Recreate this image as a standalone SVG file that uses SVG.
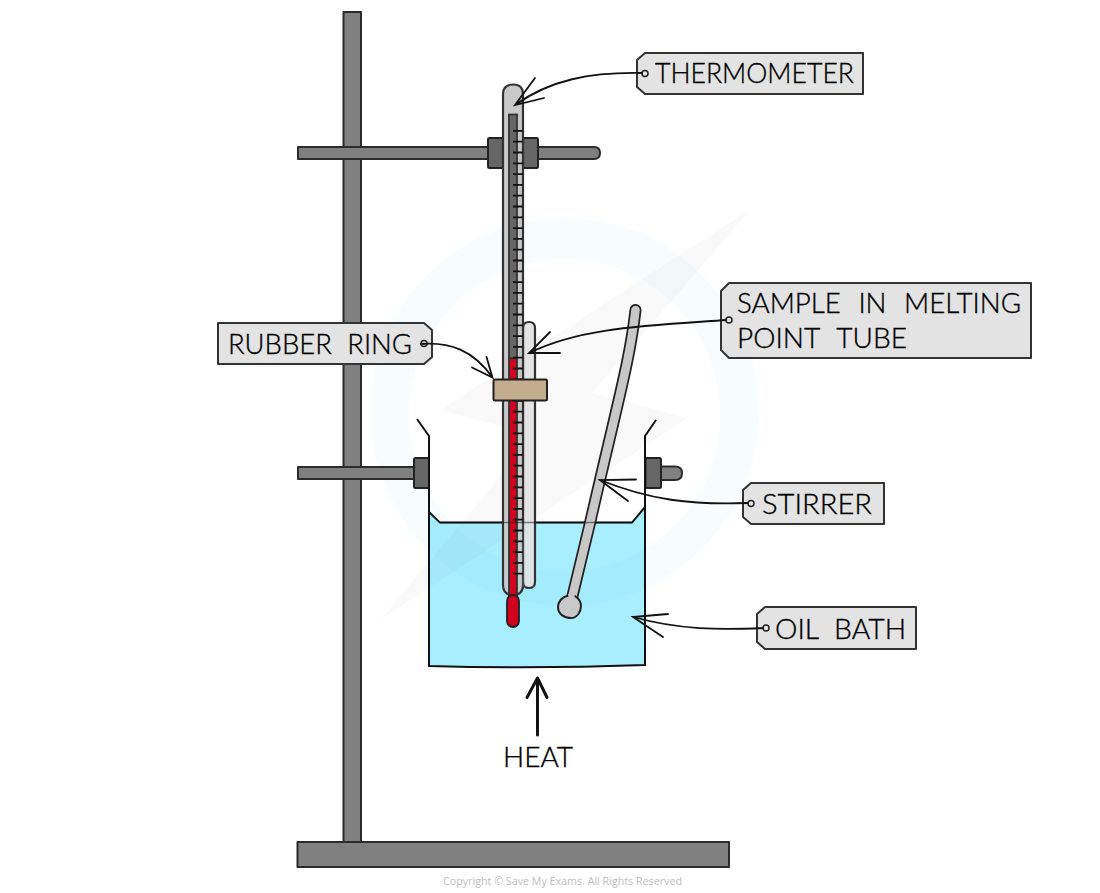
<svg xmlns="http://www.w3.org/2000/svg" width="1100" height="893" viewBox="0 0 1100 893">
<style>
.steel{fill:#808080;stroke:#2b2b2b;stroke-width:2;stroke-linejoin:round}
.boss{fill:#666;stroke:#222;stroke-width:2;stroke-linejoin:round}
.tube{stroke:#333;stroke-width:2.2}
.tag{fill:#e3e3e3;stroke:#333;stroke-width:2;stroke-linejoin:round}
.hole{fill:#e3e3e3;stroke:#222;stroke-width:1.5}
.lbl{font-family:"Lato","Noto Sans",sans-serif;font-size:27.5px;font-weight:300;fill:#000;stroke:#000;stroke-width:.35px}
.lead{fill:none;stroke:#111;stroke-width:1.8;stroke-linecap:round}
.wall{fill:none;stroke:#111;stroke-width:2}
</style>
<g id="beaker-liquid">
<path d="M429 512L440 522.600H632L645 507V665Q537 669 429 666Z" fill="#a9eeff"/>
</g>
<g id="watermark">
<path d="M564 218A194 194 0 1 0 565 606A194 194 0 1 0 564 218ZM564 259A156 156 0 1 1 565 571A156 156 0 1 1 564 259Z" fill="#39a9e0" fill-rule="evenodd" opacity=".04"/>
<path d="M752 208L440 410L535 435L380 620L688 418L592 393Z" fill="#000" opacity=".025"/>
</g>
<g id="stand">
<rect class="steel" x="343.500" y="12" width="17.500" height="830"/>
<rect class="steel" x="297.500" y="842" width="431.500" height="25"/>
<path class="steel" d="M298 147H594Q600 147 600 153Q600 159 594 159H298Z"/>
<rect class="steel" x="298" y="467" width="116" height="12"/>
<path class="steel" d="M661 466.500H675Q682 466.500 682 473Q682 480 675 480H661Z"/>
<rect class="boss" x="488" y="138" width="15" height="30" rx="1.500"/>
<rect class="boss" x="523" y="138" width="15" height="30" rx="1.500"/>
<rect class="boss" x="414" y="458" width="15" height="30" rx="1.500"/>
<rect class="boss" x="645.500" y="458" width="15.500" height="30" rx="1.500"/>
</g>
<g id="beaker">
<path class="wall" d="M417 419L429 436V666Q537 669 645 665V436L656 420"/>
<path class="wall" d="M429 512L440 522.600H632L645 507"/>
</g>
<g id="stirrer">
<path d="M635.500 310C630 360 617 405 590 523L572 598" fill="none" stroke="#222" stroke-width="12" stroke-linecap="round"/>
<path d="M635.500 310C630 360 617 405 590 523L572 598" fill="none" stroke="#c8c8c8" stroke-width="8.500" stroke-linecap="round"/>
<path d="M567 596C562 597 558 602 558 607C558 614 564 618 571 618C577 618 581 612 581 606C581 601 578 598 575 596Z" fill="#c8c8c8" stroke="#222" stroke-width="2"/>
<path d="M568 594L575 594L574 600L569 600Z" fill="#c8c8c8"/>
</g>
<g id="sample-tube">
<path class="tube" d="M523 328Q523 322 529 322Q535 322 535 328V582Q535 588 529 588Q523 588 523 582Z" fill="#e3e3e3"/>
</g>
<g id="thermometer">
<path class="tube" d="M503 94Q503 84.500 513 84.500Q523 84.500 523 94V585Q523 595 513 595Q503 595 503 585Z" fill="#c8c8c8"/>
<path d="M504 523H534V587H504Z" fill="#a9eeff" opacity=".12"/>
<rect x="509" y="114.500" width="8" height="244" fill="#666" stroke="#333" stroke-width="1.800"/>
<rect x="509" y="358.500" width="8" height="238" fill="#d0021f" stroke="#333" stroke-width="1.800"/>
<line x1="518" y1="130" x2="518" y2="575" stroke="#111" stroke-width="10" stroke-dasharray="1.800 9"/>
<rect x="507" y="595" width="12" height="32" rx="6" fill="#d0021f" stroke="#222" stroke-width="1.800"/>
</g>
<path d="M440 522.600H632" stroke="#111" stroke-width="1.500" opacity=".5"/>
<g id="rubber-ring">
<rect x="493.500" y="379.500" width="53.500" height="21" rx="1.500" fill="#c4ac8e" stroke="#222" stroke-width="2"/>
</g>
<g id="heat">
<path d="M537.500 735V679M527 697.500L537.500 678L547 697.500" fill="none" stroke="#111" stroke-width="3" stroke-linecap="round" stroke-linejoin="round"/>
<text class="lbl" x="503" y="767" textLength="70" lengthAdjust="spacingAndGlyphs">HEAT</text>
</g>
<g id="label-thermometer">
<path class="tag" d="M645 53H863V94H645L637 87V60Z"/>
<circle class="hole" cx="645" cy="73.500" r="3"/>
<text class="lbl" x="655" y="83" textLength="199" lengthAdjust="spacingAndGlyphs">THERMOMETER</text>
</g>
<g id="label-rubber-ring">
<path class="tag" d="M218 323H424L432 330V357L424 364H218Z"/>
<circle class="hole" cx="424" cy="343.500" r="3"/>
<text class="lbl" x="228" y="354" textLength="184" lengthAdjust="spacingAndGlyphs" style="word-spacing:8px">RUBBER RING</text>
</g>
<g id="label-sample">
<path class="tag" d="M729 283H1031V358H729L721 350V291Z"/>
<circle class="hole" cx="729" cy="320" r="3"/>
<text class="lbl" x="737" y="313" textLength="284" lengthAdjust="spacingAndGlyphs" style="word-spacing:10px">SAMPLE IN MELTING</text>
<text class="lbl" x="737" y="348" textLength="170" lengthAdjust="spacingAndGlyphs" style="word-spacing:10px">POINT TUBE</text>
</g>
<g id="label-stirrer">
<path class="tag" d="M751 483H884V524H751L743 517V490Z"/>
<circle class="hole" cx="751" cy="503.500" r="3"/>
<text class="lbl" x="762" y="514" textLength="110" lengthAdjust="spacingAndGlyphs">STIRRER</text>
</g>
<g id="label-oil-bath">
<path class="tag" d="M765 607H916V649H765L757 642V614Z"/>
<circle class="hole" cx="766" cy="628" r="3"/>
<text class="lbl" x="775" y="639" textLength="131" lengthAdjust="spacingAndGlyphs" style="word-spacing:8px">OIL BATH</text>
</g>
<g id="connectors">
<path class="lead" d="M642 73C590 72 550 80 515 105M535 78L515 105L544 98"/>
<path class="lead" d="M421 344C450 342 473 350 492.500 377.500M486.500 357L492.500 377.500L472 367.500"/>
<path class="lead" d="M726 320C640 326 580 328 529 353M550 332L529 353L560 353"/>
<path class="lead" d="M748 503C690 505 650 500 600 480M636 479.500L600 480L628 501"/>
<path class="lead" d="M763 628C720 630 680 630 633 617M668 614L633 617L663 637"/>
</g>
<text x="443" y="885" font-family="'Open Sans',sans-serif" font-size="11.500" fill="#bdbdbd" textLength="239" lengthAdjust="spacingAndGlyphs">Copyright © Save My Exams. All Rights Reserved</text>
</svg>
